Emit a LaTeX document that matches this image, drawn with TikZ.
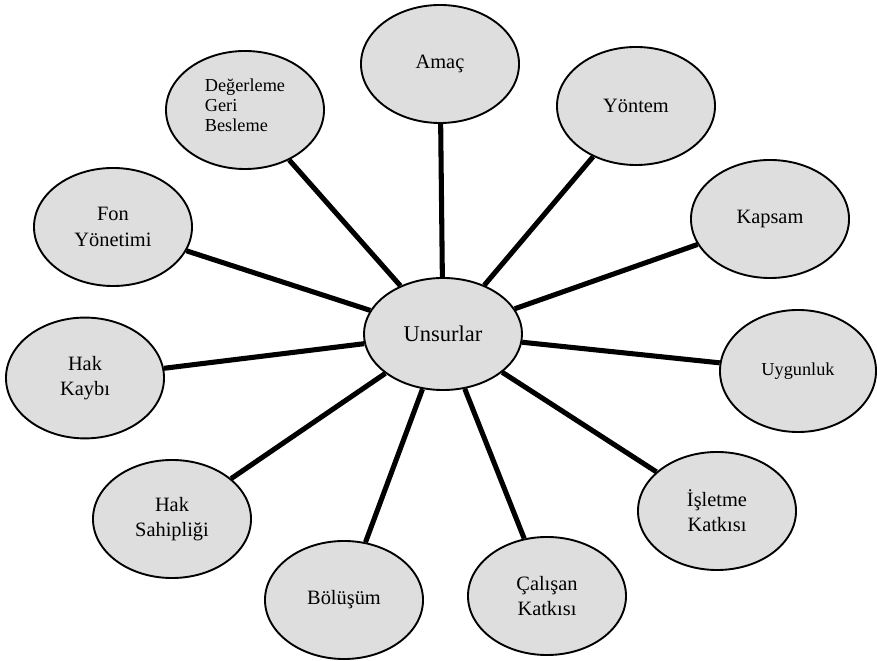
\documentclass[tikz,border=0pt]{standalone}
\usepackage{fontspec}
\setmainfont{Liberation Serif}
\usetikzlibrary{shapes.geometric}

\begin{document}
\begin{tikzpicture}[x=0.025cm,y=-0.025cm,
        elem/.style={ellipse,draw,line width=1.35pt,fill=black!13,inner sep=0pt,
            minimum width=3.95cm,minimum height=2.95cm,align=center,
            font=\fontsize{14.5}{18}\selectfont},
        link/.style={line width=3.6pt}]
        \useasboundingbox (0,0) rectangle (877,661);

        \node[elem,minimum height=2.8cm,font=\fontsize{16}{19}\selectfont] (uns) at (443,334) {Unsurlar};

        \node[elem] (amac) at (440,64) {Amaç};
        \node[elem] (yontem) at (636,106) {Yöntem};
        \node[elem] (kapsam) at (770,219) {Kapsam};
        \node[elem,minimum width=3.9cm,minimum height=3.05cm,font=\fontsize{13}{16}\selectfont] (uygun) at (798,371) {Uygunluk};
        \node[elem] (isletme) at (717,511) {İşletme\\Katkısı};
        \node[elem] (calisan) at (547,596) {Çalışan\\Katkısı};
        \node[elem] (bolusum) at (344,600) {Bölüşüm};
        \node[elem] (sahip) at (172,519) {Hak\\Sahipliği};
        \node[elem,minimum height=3.02cm] (kayip) at (85,378) {Hak\\Kaybı};
        \node[elem] (fon) at (113,227) {Fon\\Yönetimi};
        \node[elem,align=left,text depth=7pt,font=\fontsize{13}{14.2}\selectfont] (deger) at (245,110) {Değerleme\\Geri\\Besleme};

        \draw[link] (uns) -- (amac);
        \draw[link] (uns) -- (yontem);
        \draw[link] (uns) -- (kapsam);
        \draw[link] (uns) -- (uygun);
        \draw[link] (uns) -- (isletme);
        \draw[link] (uns) -- (calisan);
        \draw[link] (uns) -- (bolusum);
        \draw[link] (uns) -- (sahip);
        \draw[link] (uns) -- (kayip);
        \draw[link] (uns) -- (fon);
        \draw[link] (uns) -- (deger);
    \end{tikzpicture}
\end{document}
